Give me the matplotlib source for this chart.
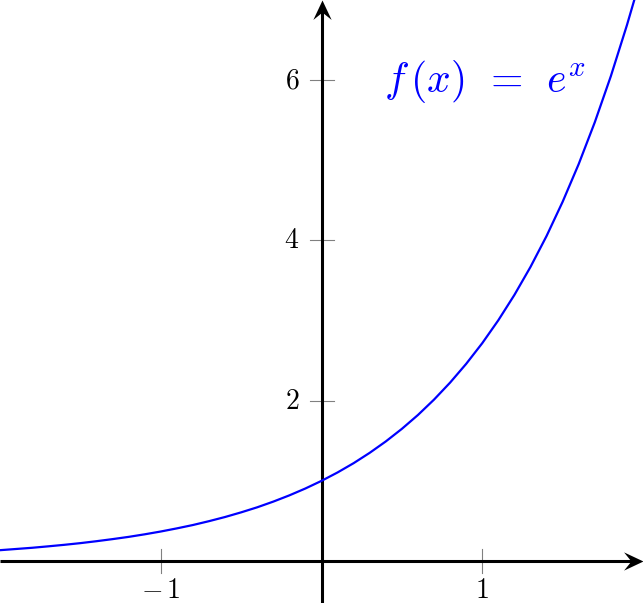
import matplotlib.pyplot as plt
from matplotlib.path import Path

plt.rcParams['mathtext.fontset'] = 'cm'

# curve samples
x_vals = [-2.0, -1.9, -1.8, -1.7, -1.6, -1.5, -1.4, -1.3, -1.2, -1.1,
          -1.0, -0.9, -0.8, -0.7, -0.6, -0.5, -0.4, -0.3, -0.2, -0.1,
          0.0, 0.1, 0.2, 0.3, 0.4, 0.5, 0.6, 0.7, 0.8, 0.9,
          1.0, 1.1, 1.2, 1.3, 1.4, 1.5, 1.6, 1.7, 1.8, 1.9, 1.95]
y_vals = [0.135, 0.150, 0.165, 0.183, 0.202, 0.223, 0.247, 0.273, 0.301, 0.333,
          0.368, 0.407, 0.449, 0.497, 0.549, 0.607, 0.670, 0.741, 0.819, 0.905,
          1.000, 1.105, 1.221, 1.350, 1.492, 1.649, 1.822, 2.014, 2.226, 2.460,
          2.718, 3.004, 3.320, 3.669, 4.055, 4.482, 4.953, 5.474, 6.050, 6.686, 7.029]

x_ticks = [-1, 1]
x_tick_labels = [r'$-\,1$', '$1$']
y_ticks = [2, 4, 6]
y_tick_labels = ['$2$', '$4$', '$6$']

label_text = r'$f\,(x)\;\,=\;\,e^x$'

xmin, xmax = -2.0, 2.0
ymin, ymax = -0.524, 7.0

fig = plt.figure(figsize=(6.43, 6.03), dpi=100)
ax = fig.add_axes([0, 0, 1, 1])
ax.set_xlim(xmin, xmax)
ax.set_ylim(ymin, ymax)
ax.axis('off')

# pixel sizes -> data units
px_x = (xmax - xmin) / 643
px_y = (ymax - ymin) / 603

# tick marks (grey, behind axis lines)
for t in x_ticks:
    ax.plot([t, t], [-12 * px_y, 12 * px_y], color='#808080', lw=0.8, zorder=1)
for t in y_ticks:
    ax.plot([-12 * px_x, 12 * px_x], [t, t], color='#808080', lw=0.8, zorder=1)

# axis lines
ax.plot([xmin, xmax - 10 * px_x], [0, 0], color='black', lw=2.2, zorder=2,
        clip_on=False, solid_capstyle='butt')
ax.plot([0, 0], [ymin, ymax - 10 * px_y], color='black', lw=2.2, zorder=2,
        clip_on=False, solid_capstyle='butt')

# arrow heads (tip at the marker position, concave back)
head_right = Path([(0, 0), (-1.0, 0.47), (-0.62, 0), (-1.0, -0.47), (0, 0)],
                  [Path.MOVETO, Path.LINETO, Path.LINETO, Path.LINETO, Path.CLOSEPOLY])
head_up = Path([(0, 0), (0.47, -1.0), (0, -0.62), (-0.47, -1.0), (0, 0)],
               [Path.MOVETO, Path.LINETO, Path.LINETO, Path.LINETO, Path.CLOSEPOLY])
ax.plot([xmax], [0], marker=head_right, markersize=28, color='black',
        markeredgewidth=0, clip_on=False, zorder=3)
ax.plot([0], [ymax], marker=head_up, markersize=28, color='black',
        markeredgewidth=0, clip_on=False, zorder=3)

# tick labels
for t, lab in zip(x_ticks, x_tick_labels):
    ax.text(t, -29 * px_y, lab, ha='center', va='center', fontsize=20)
for t, lab in zip(y_ticks, y_tick_labels):
    ax.text(-22 * px_x, t, lab, ha='right', va='center', fontsize=20)

# curve
ax.plot(x_vals, y_vals, color='#0000ff', lw=1.6, zorder=4)

ax.text(1.015, 5.985, label_text, color='#0000ff', fontsize=30,
        ha='center', va='center')

fig.savefig('out.png', dpi=100)
